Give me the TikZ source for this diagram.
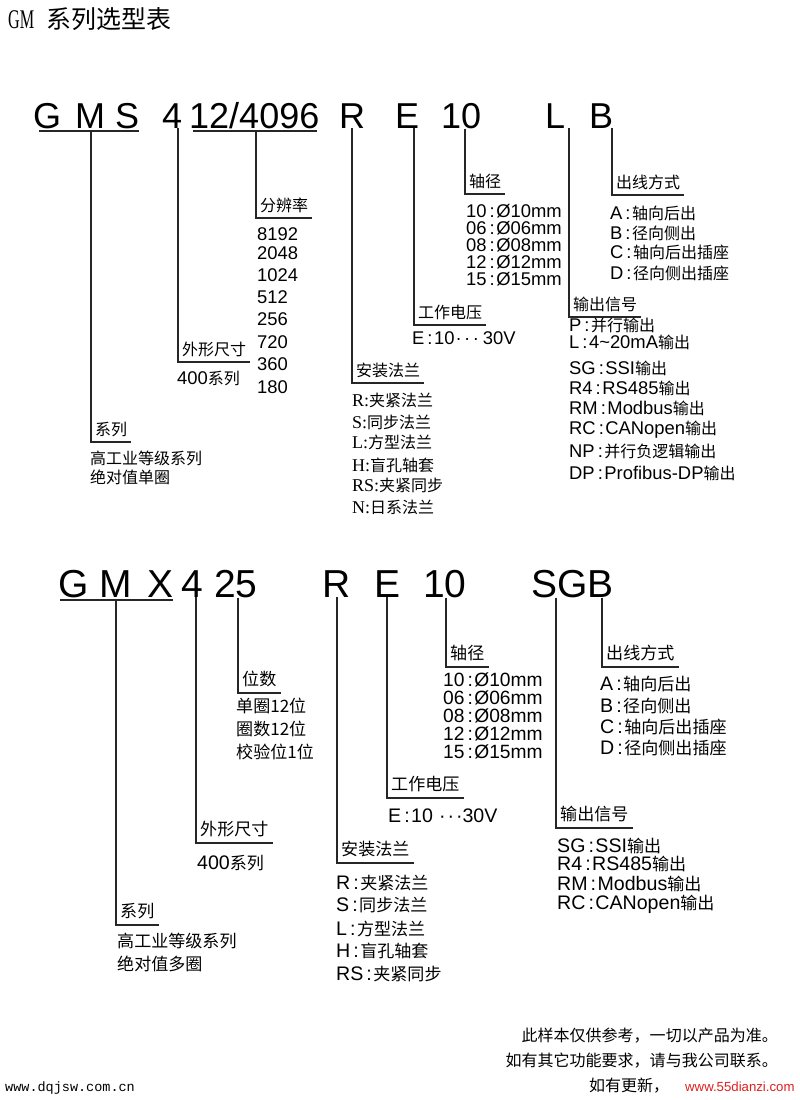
\documentclass[tikz,border=0pt]{standalone}
\usepackage{fontspec}
\setmainfont{Liberation Sans}
\newfontfamily\cjk[Scale=0.87]{Noto Sans CJK SC}
\newfontfamily\monoface{Liberation Mono}
\newfontfamily\serifface{Liberation Serif}
\newfontfamily\titleface[FakeStretch=0.6]{Liberation Serif}
\definecolor{wmred}{RGB}{225,30,30}
\newcommand\zh[1]{{\cjk #1}}
\newcommand\lat[1]{{\serifface\fontsize{18}{18}\selectfont #1}}
\newcommand\cln{\kern3pt:\kern1.5pt}
\begin{document}
\begin{tikzpicture}[x=1pt,y=-1pt,
  code/.style={anchor=base west,inner sep=0pt,font=\fontsize{36}{36}\selectfont},
  codeb/.style={code,font=\fontsize{39}{39}\selectfont},
  lead/.style={line width=1.2pt,black!85},
  tag/.style={anchor=south west,inner xsep=4pt,inner ysep=0pt,text depth=6pt,font=\fontsize{18.4}{18.4}\selectfont\cjk},
  tagb/.style={tag,text depth=7pt,font=\fontsize{19.6}{19.6}\selectfont\cjk},
  item/.style={anchor=base west,inner sep=0pt,text height=14pt,text depth=3pt,font=\fontsize{18.4}{18.4}\selectfont},
  itemb/.style={item,font=\fontsize{19.6}{19.6}\selectfont}]
\fill[white] (0,0) rectangle (800,1100);
\useasboundingbox (0,0) rectangle (800,1100);
\node[anchor=base west,inner sep=0pt] (title) at (8,28)
  {{\titleface\fontsize{27}{27}\selectfont GM}\hspace{12pt}{\fontsize{28.7}{28.7}\selectfont\cjk 系列选型表}};

% first code: GMS 412/4096 R E 10 L B
\node[code] (gms) at (33,128) {G\kern14pt M\kern10pt S};
\node[code] (c4) at (162,128) {4};
\node[code] (c12) at (189,128) {12/4096};
\node[code] (cr) at (339,128) {R};
\node[code] (ce) at (395,128) {E};
\node[code] (c10) at (441,128) {10};
\node[code] (cl) at (545,128) {L};
\node[code] (cb) at (589,128) {B};
\draw[lead] ([xshift=6pt,yshift=-3pt]gms.base west) -- ([yshift=-3pt]gms.base east);
\draw[lead] ([xshift=4pt,yshift=-3pt]c12.base west) -- ([xshift=-3pt,yshift=-3pt]c12.base east);
\coordinate (gmsu) at ([yshift=-3pt]gms.base);
\coordinate (c12u) at ([yshift=-3pt]c12.base);

\node[tag] (series1) at (91,442) {系列};
\node[tag] (size1) at (178,362) {外形尺寸};
\node[tag] (res1) at (256,218) {分辨率};
\node[tag] (mount1) at (352,383) {安装法兰};
\node[tag] (volt1) at (414,325) {工作电压};
\node[tag] (shaft1) at (465,194) {轴径};
\node[tag] (out1) at (569,317) {输出信号};
\node[tag] (cable1) at (612,195) {出线方式};

\draw[lead] (gmsu -| series1.south west) |- (series1.south east);
\draw[lead] (c4.south -| size1.south west) |- (size1.south east);
\draw[lead] (c12u -| res1.south west) |- (res1.south east);
\draw[lead] (cr.south -| mount1.south west) |- (mount1.south east);
\draw[lead] (ce.south -| volt1.south west) |- (volt1.south east);
\draw[lead] (c10.south -| shaft1.south west) |- (shaft1.south east);
\draw[lead] (cl.south -| out1.south west) |- (out1.south east);
\draw[lead] (cb.south -| cable1.south west) |- (cable1.south east);

\node[item] (series1-1) at (90,464) {\zh{高工业等级系列}};
\node[item] (series1-2) at (90,483) {\zh{绝对值单圈}};
\node[item] (size1-1) at (177,384) {400\zh{系列}};
\foreach \y/\t [count=\i] in {240/8192,259/2048,281/1024,303/512,325/256,348/720,370/360,393/180}
  \node[item] (res1-\i) at (257,\y) {\t};
\foreach \y/\k/\t [count=\i] in {406/R/夹紧法兰,428/S/同步法兰,448/L/方型法兰,471/H/盲孔轴套,491/RS/夹紧同步,513/N/日系法兰}
  \node[item] (mount1-\i) at (352,\y) {\lat{\k:}\zh{\t}};
\node[item] (volt1-1) at (412,344) {E\cln10\kern1pt·\kern2.5pt·\kern2.5pt·\kern4pt30V};
\foreach \y/\k [count=\i] in {217/10,234/06,251/08,268/12,285/15}
  \node[item] (shaft1-\i) at (466,\y) {\k\cln Ø\k mm};
\foreach \y/\t [count=\i] in {331/P\cln\zh{并行输出},348/L\cln4\textasciitilde20mA\zh{输出},374/SG\cln SSI\zh{输出},394/R4\cln RS485\zh{输出},414/RM\cln Modbus\zh{输出},434/RC\cln CANopen\zh{输出},457/NP\cln\zh{并行负逻辑输出},479/DP\cln Profibus-DP\zh{输出}}
  \node[item] (out1-\i) at (569,\y) {\t};
\foreach \y/\k/\t [count=\i] in {219/A/轴向后出,239/B/径向侧出,258/C/轴向后出插座,279/D/径向侧出插座}
  \node[item] (cable1-\i) at (610,\y) {\k\cln\zh{\t}};

% second code: GMX 4 25 R E 10 SGB
\node[codeb] (gmx) at (58,597) {G\kern11pt M\kern15pt X};
\node[codeb] (d4) at (181,597) {4};
\node[codeb] (d25) at (214,597) {25};
\node[codeb] (dr) at (322,597) {R};
\node[codeb] (de) at (374,597) {E};
\node[codeb] (d10) at (423,597) {10};
\node[codeb] (sgb) at (531,597) {SGB};
\draw[lead] ([xshift=2pt,yshift=-3pt]gmx.base west) -- ([yshift=-3pt]gmx.base east);
\coordinate (gmxu) at ([yshift=-3pt]gmx.base);

\node[tagb] (series2) at (116,925) {系列};
\node[tagb] (size2) at (196,843) {外形尺寸};
\node[tagb] (bits2) at (238,693) {位数};
\node[tagb] (mount2) at (337,863) {安装法兰};
\node[tagb] (volt2) at (387,798) {工作电压};
\node[tagb] (shaft2) at (446,667) {轴径};
\node[tagb] (out2) at (556,828) {输出信号};
\node[tagb] (cable2) at (602,667) {出线方式};

\draw[lead] (gmxu -| series2.south west) |- (series2.south east);
\draw[lead] (d4.south -| size2.south west) |- (size2.south east);
\draw[lead] (d25.south -| bits2.south west) |- (bits2.south east);
\draw[lead] (dr.south -| mount2.south west) |- (mount2.south east);
\draw[lead] (de.south -| volt2.south west) |- (volt2.south east);
\draw[lead] (d10.south -| shaft2.south west) |- (shaft2.south east);
\draw[lead] (sgb.south -| out2.south west) |- (out2.south east);
\draw[lead] (sgb.south -| cable2.south west) |- (cable2.south east);

\node[itemb] (series2-1) at (117,947) {\zh{高工业等级系列}};
\node[itemb] (series2-2) at (117,970) {\zh{绝对值多圈}};
\node[itemb] (size2-1) at (197,869) {400\zh{系列}};
\foreach \y/\t [count=\i] in {712/单圈12位,735/圈数12位,758/校验位1位}
  \node[itemb] (bits2-\i) at (236,\y) {\zh{\t}};
\foreach \y/\k/\t [count=\i] in {889/R/夹紧法兰,911/S/同步法兰,935/L/方型法兰,957/H/盲孔轴套,980/RS/夹紧同步}
  \node[itemb] (mount2-\i) at (336,\y) {\k\cln\zh{\t}};
\node[itemb] (volt2-1) at (388,822) {E\cln10\kern6pt·\kern2pt·\kern2pt·30V};
\foreach \y/\k [count=\i] in {686/10,704/06,722/08,740/12,758/15}
  \node[itemb,font=\fontsize{19.2}{19.2}\selectfont] (shaft2-\i) at (443,\y) {\k\cln Ø\k mm};
\foreach \y/\t [count=\i] in {852/SG\cln SSI\zh{输出},870/R4\cln RS485\zh{输出},890/RM\cln Modbus\zh{输出},909/RC\cln CANopen\zh{输出}}
  \node[itemb] (out2-\i) at (557,\y) {\t};
\foreach \y/\k/\t [count=\i] in {690/A/轴向后出,712/B/径向侧出,733/C/轴向后出插座,754/D/径向侧出插座}
  \node[itemb] (cable2-\i) at (600,\y) {\k\cln\zh{\t}};

% notes at the foot
\node[item,anchor=base east] (note1) at (778,1041) {\zh{此样本仅供参考，一切以产品为准。}};
\node[item,anchor=base east] (note2) at (778,1066) {\zh{如有其它功能要求，请与我公司联系。}};
\node[item] (note3) at (589,1091) {\zh{如有更新，}};
\node[item,text=wmred,font=\fontsize{13.2}{13.2}\selectfont] (site2) at (685,1091) {www.55dianzi.com};
\node[item,font=\monoface\fontsize{13.5}{13.5}\selectfont] (site1) at (5,1091) {www.dqjsw.com.cn};
\end{tikzpicture}
\end{document}
